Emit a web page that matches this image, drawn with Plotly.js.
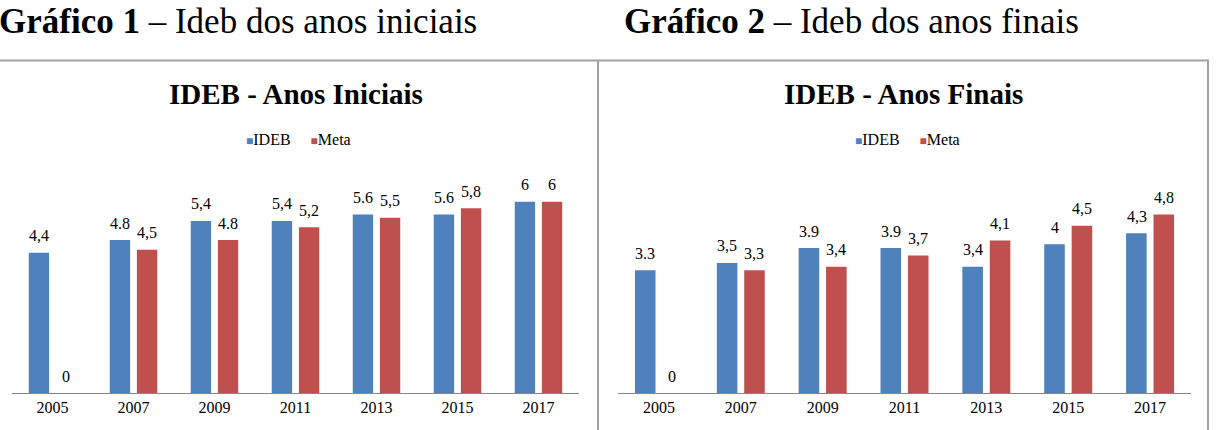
<!DOCTYPE html>
<html>
<head>
<meta charset="utf-8">
<script src="https://cdn.plot.ly/plotly-3.0.1.min.js"></script>
<style>
html,body{margin:0;padding:0;background:#fff;}
#chart{width:1221px;height:430px;}
</style>
</head>
<body>
<div id="chart"></div>
<script>
// ---- data ----
const years = ['2005', '2007', '2009', '2011', '2013', '2015', '2017'];

const ideb1 = [4.4, 4.8, 5.4, 5.4, 5.6, 5.6, 6];
const meta1 = [0, 4.5, 4.8, 5.2, 5.5, 5.8, 6];
const ideb1Labels = ['4,4', '4.8', '5,4', '5,4', '5.6', '5.6', '6'];
const meta1Labels = ['0', '4,5', '4.8', '5,2', '5,5', '5,8', '6'];

const ideb2 = [3.3, 3.5, 3.9, 3.9, 3.4, 4, 4.3];
const meta2 = [0, 3.3, 3.4, 3.7, 4.1, 4.5, 4.8];
const ideb2Labels = ['3.3', '3,5', '3.9', '3.9', '3,4', '4', '4,3'];
const meta2Labels = ['0', '3,3', '3,4', '3,7', '4,1', '4,5', '4,8'];

const seriesNames = ['IDEB', 'Meta'];
const chartTitles = ['IDEB - Anos Iniciais', 'IDEB - Anos Finais'];
const headings = ['<b>Gráfico 1</b> – Ideb dos anos iniciais', '<b>Gráfico 2</b> – Ideb dos anos finais'];

// ---- style ----
const W = 1221, H = 430;
const BLUE = '#4F81BD', RED = '#C0504D';
const COLORS = [BLUE, RED];
const SERIF = '"Liberation Serif", "Times New Roman", serif';
const px = v => v / W;
const py = v => (H - v) / H;

function barTrace(y, name, color, xa, ya) {
  return {
    type: 'bar', x: years, y: y, name: name,
    marker: {color: color},
    xaxis: xa, yaxis: ya, showlegend: false,
    hoverinfo: 'skip'
  };
}

const data = [
  barTrace(ideb1, seriesNames[0], BLUE, 'x', 'y'),
  barTrace(meta1, seriesNames[1], RED, 'x', 'y'),
  barTrace(ideb2, seriesNames[0], BLUE, 'x2', 'y2'),
  barTrace(meta2, seriesNames[1], RED, 'x2', 'y2')
];

const annotations = [];
function addLabels(vals, labels, xref, yref, shift) {
  vals.forEach((v, i) => {
    annotations.push({
      x: i, y: v, xref: xref, yref: yref,   // i = category index of years[i]
      text: labels[i], showarrow: false,
      xshift: shift, yshift: 17, yanchor: 'middle',
      font: {family: SERIF, size: 16, color: '#000'}
    });
  });
}
addLabels(ideb1, ideb1Labels, 'x', 'y', -13.5);
addLabels(meta1, meta1Labels, 'x', 'y', 13.5);
addLabels(ideb2, ideb2Labels, 'x2', 'y2', -13.5);
addLabels(meta2, meta2Labels, 'x2', 'y2', 13.5);

// chart titles
annotations.push({xref: 'paper', yref: 'paper', x: px(296), y: py(94), xanchor: 'center', yanchor: 'middle',
  text: '<b>' + chartTitles[0] + '</b>', showarrow: false, font: {family: SERIF, size: 29, color: '#000'}});
annotations.push({xref: 'paper', yref: 'paper', x: px(903), y: py(94), xanchor: 'center', yanchor: 'middle',
  text: '<b>' + chartTitles[1] + '</b>', showarrow: false, font: {family: SERIF, size: 29, color: '#000'}});

// compact Excel-style legends
const legendText = seriesNames.map((n, k) =>
  '<span style="color:' + COLORS[k] + ';font-size:12px">■</span>' + n).join('&nbsp;&nbsp;&nbsp;&nbsp;&nbsp;');
[298, 907].forEach(xc => {
  annotations.push({xref: 'paper', yref: 'paper', x: px(xc), y: py(139), xanchor: 'center', yanchor: 'middle',
    text: legendText, showarrow: false, font: {family: SERIF, size: 16, color: '#000'}});
});

// page headings
annotations.push({xref: 'paper', yref: 'paper', x: px(-3), y: py(21), xanchor: 'left', yanchor: 'middle',
  text: headings[0], showarrow: false, font: {family: SERIF, size: 35, color: '#000'}});
annotations.push({xref: 'paper', yref: 'paper', x: px(622), y: py(21), xanchor: 'left', yanchor: 'middle',
  text: headings[1], showarrow: false, font: {family: SERIF, size: 35, color: '#000'}});

const BORDER = '#a0a0a0';
const shapes = [
  {type: 'line', xref: 'paper', yref: 'paper', x0: 0, x1: px(1209), y0: py(60.5), y1: py(60.5), line: {color: BORDER, width: 2}},
  {type: 'line', xref: 'paper', yref: 'paper', x0: px(598), x1: px(598), y0: py(60), y1: 0, line: {color: BORDER, width: 2}},
  {type: 'line', xref: 'paper', yref: 'paper', x0: px(1208), x1: px(1208), y0: py(60), y1: 0, line: {color: BORDER, width: 2}}
];

function xaxisDef(domain) {
  return {
    domain: domain, type: 'category', range: [-0.5, years.length - 0.5], autorange: false,
    showline: true, linecolor: '#868686', linewidth: 1,
    ticks: '', showgrid: false, zeroline: false, fixedrange: true,
    tickfont: {family: SERIF, size: 16, color: '#000'}
  };
}
function yaxisDef(range) {
  return {domain: [py(393), py(170)], range: range, autorange: false, visible: false, showgrid: false, zeroline: false, fixedrange: true};
}

const layout = {
  width: W, height: H,
  margin: {l: 0, r: 0, t: 0, b: 0},
  paper_bgcolor: '#fff', plot_bgcolor: 'rgba(0,0,0,0)',
  showlegend: false,
  barmode: 'group', bargap: 0.33, bargroupgap: 0.25,
  xaxis: Object.assign(xaxisDef([px(12), px(579)]), {anchor: 'y'}),
  yaxis: Object.assign(yaxisDef([0, 7]), {anchor: 'x'}),
  xaxis2: Object.assign(xaxisDef([px(618), px(1191)]), {anchor: 'y2'}),
  yaxis2: Object.assign(yaxisDef([0, 6]), {anchor: 'x2'}),
  annotations: annotations,
  shapes: shapes,
  font: {family: SERIF}
};

Plotly.newPlot('chart', data, layout, {staticPlot: true, displayModeBar: false});
</script>
</body>
</html>
